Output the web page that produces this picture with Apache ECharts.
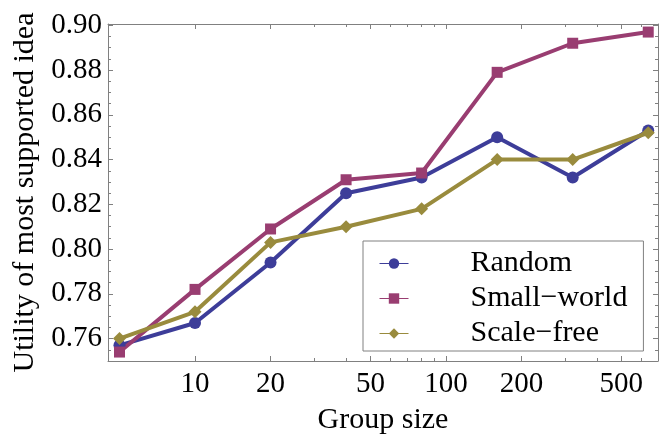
<!DOCTYPE html>
<html><head><meta charset="utf-8">
<script src="https://cdn.jsdelivr.net/npm/echarts@6/dist/echarts.min.js"></script>
<style>html,body{margin:0;padding:0;background:#fff}#c{width:662px;height:440px}</style>
</head><body><div id="c"></div>
<script>
const groupSizes = [5, 10, 20, 40, 80, 160, 320, 640];
const randomVals = [0.757, 0.767, 0.794, 0.825, 0.832, 0.850, 0.832, 0.853];
const smallWorldVals = [0.754, 0.782, 0.809, 0.831, 0.834, 0.879, 0.892, 0.897];
const scaleFreeVals = [0.760, 0.772, 0.803, 0.810, 0.818, 0.840, 0.840, 0.852];
const xMajorTicks = [10, 20, 50, 100, 200, 500];
const xMinorTicks = [30, 40, 60, 70, 80, 90, 300, 400, 600];
const yMajorTicks = [0.76, 0.78, 0.80, 0.82, 0.84, 0.86, 0.88, 0.90];
const seriesNames = ['Random', 'Small\u2212world', 'Scale\u2212free'];
const seriesColors = ['#3d3d99', '#993d71', '#998b3d'];
const seriesSymbols = ['circle', 'rect', 'diamond'];

const FONT = '"Liberation Serif", "Times New Roman", serif';
const FRAME = '#808080';
const XMIN = 4.5, XMAX = 700, YMIN = 0.75, YMAX = 0.9006;

function xAxisDef(pos, ticks, len, labels, line) {
  return {
    type: 'log', logBase: 10, min: XMIN, max: XMAX, position: pos,
    axisLine: {show: line, lineStyle: {color: FRAME, width: 1}},
    axisTick: {show: true, inside: true, length: len, customValues: ticks, lineStyle: {color: FRAME}},
    axisLabel: labels ? {show: true, customValues: ticks, fontFamily: FONT, fontSize: 29, color: '#000', margin: 9} : {show: false},
    splitLine: {show: false}, minorTick: {show: false}
  };
}
function yAxisDef(pos, ticks, len, labels, line) {
  const a = {
    type: 'value', min: YMIN, max: YMAX, position: pos,
    axisLine: {show: line, lineStyle: {color: FRAME, width: 1}},
    axisTick: {show: true, inside: true, length: len, lineStyle: {color: FRAME}},
    axisLabel: labels ? {show: true, customValues: ticks, fontFamily: FONT, fontSize: 29, color: '#000', margin: 6,
      formatter: v => Number(v).toFixed(2)} : {show: false},
    splitLine: {show: false}
  };
  if (ticks) a.axisTick.customValues = ticks; else a.interval = 0.005;
  return a;
}

const xAxes = [
  xAxisDef('bottom', xMajorTicks, 5, true, true),
  xAxisDef('bottom', xMinorTicks, 3, false, false),
  xAxisDef('top', xMajorTicks, 5, false, true),
  xAxisDef('top', xMinorTicks, 3, false, false)
];
xAxes[0].name = 'Group size';
xAxes[0].nameLocation = 'middle';
xAxes[0].nameGap = 44;
xAxes[0].nameTextStyle = {fontFamily: FONT, fontSize: 30, color: '#000'};

const yAxes = [
  yAxisDef('left', yMajorTicks, 5, true, true),
  yAxisDef('left', null, 3, false, false),
  yAxisDef('right', yMajorTicks, 5, false, true),
  yAxisDef('right', null, 3, false, false)
];
yAxes[0].name = 'Utility of most supported idea';
yAxes[0].nameLocation = 'middle';
yAxes[0].nameGap = 66;
yAxes[0].nameTextStyle = {fontFamily: FONT, fontSize: 30, color: '#000'};

const valueLists = [randomVals, smallWorldVals, scaleFreeVals];
const sizes = [12, 11, 13];
const series = seriesNames.map((name, k) => ({
  name, type: 'line', xAxisIndex: 0, yAxisIndex: 0,
  data: groupSizes.map((g, i) => [g, valueLists[k][i]]),
  symbol: seriesSymbols[k], symbolSize: sizes[k], showSymbol: true,
  lineStyle: {color: seriesColors[k], width: 4},
  itemStyle: {color: seriesColors[k]},
  emphasis: {disabled: true}
}));

const chart = echarts.init(document.getElementById('c'), null, {renderer: 'canvas'});
chart.setOption({
  animation: false,
  backgroundColor: '#fff',
  grid: {left: 108, top: 24, right: 4, bottom: 76, containLabel: false},
  xAxis: xAxes,
  yAxis: yAxes,
  legend: {
    orient: 'vertical', left: 363, top: 241,
    padding: [5, 16, 0, 16],
    backgroundColor: '#fff', borderColor: FRAME, borderWidth: 1, borderRadius: 0,
    itemWidth: 29, itemHeight: 13, itemGap: 0,
    lineStyle: {width: 1},
    textStyle: {fontFamily: FONT, fontSize: 30, color: '#000', lineHeight: 35, padding: [0, 0, 0, 57]},
    data: seriesNames
  },
  series
});
</script>
</body></html>
